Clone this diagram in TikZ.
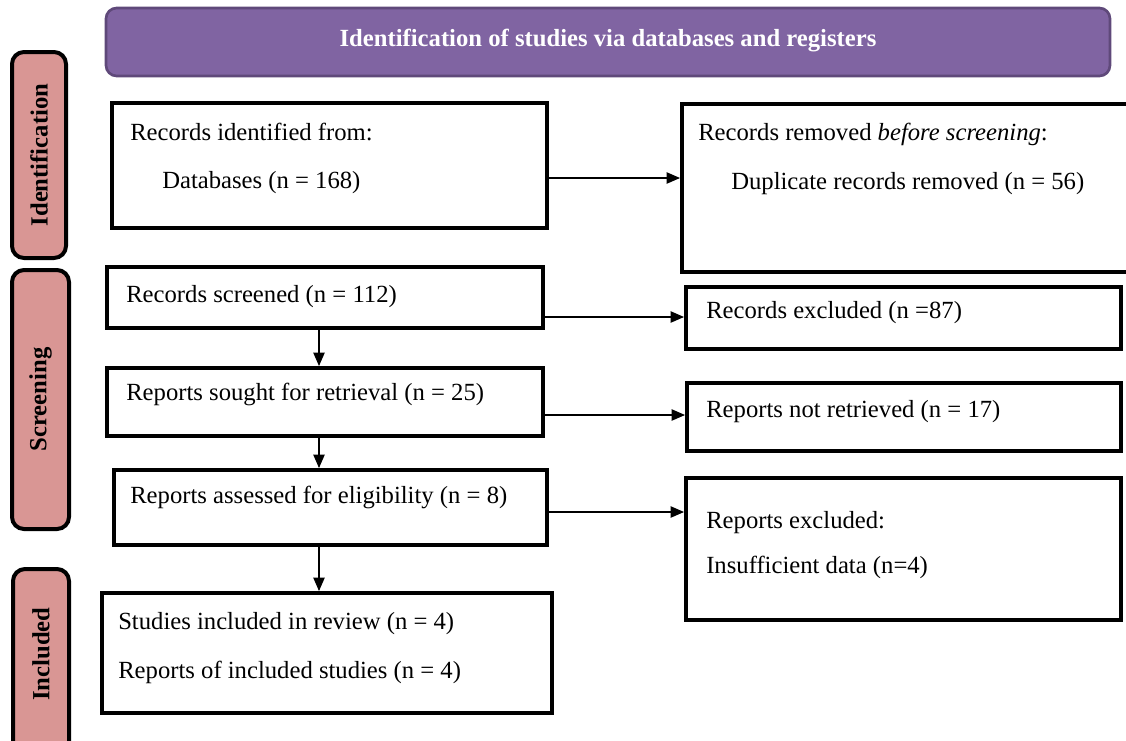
\documentclass[tikz,border=0pt]{standalone}
\usepackage{fontspec}
\setmainfont{Liberation Serif}
\usetikzlibrary{arrows.meta}
\usetikzlibrary{fit}
\definecolor{headfill}{HTML}{8064A2}
\definecolor{headline}{HTML}{5F497A}
\definecolor{stagefill}{HTML}{D99694}
\tikzset{box/.style = {draw, line width=3pt, inner sep=0pt},
         header/.style = {draw=headline, fill=headfill, line width=2pt,
                          rounded corners=8pt, inner sep=0pt},
         headtext/.style = {text=white, font=\fontsize{18.5}{21}\selectfont\bfseries},
         stage/.style = {draw, fill=stagefill, line width=3pt,
                         rounded corners=9pt, inner sep=0pt},
         stagetext/.style = {rotate=90, font=\fontsize{18.5}{21}\selectfont\bfseries},
         txt/.style = {anchor=base west, inner sep=0pt,
                       font=\fontsize{18.5}{21}\selectfont},
         arr/.style = {-{Triangle[length=10pt, width=8.5pt]}, line width=0.8pt}}

\begin{document}
\begin{tikzpicture}[x=0.75pt, y=-0.75pt]
    \useasboundingbox (0, 0) rectangle (1126, 740);

    % header and stage labels
    \node [header, fit={(106, 8) (1110, 76)}] (head) {};
    \node [headtext] (thead) at (608, 41)
        {Identification of studies via databases and registers};
    \node [stage, fit={(12, 52) (66, 258)}] (sid) {};
    \node [stage, fit={(12, 270) (69, 529)}] (sscr) {};
    \node [stage, fit={(13, 569) (69, 760)}] (sinc) {};
    \node [stagetext] at (sid) {Identification};
    \node [stagetext] at (sscr) {Screening};
    \node [stagetext] (tinc) at (41, 654) {Included};

    % left column
    \node [box, fit={(112, 103) (547, 228)}] (ident) {};
    \node [box, fit={(107, 267) (543, 328)}] (screened) {};
    \node [box, fit={(107, 368) (543, 436)}] (sought) {};
    \node [box, fit={(114, 470) (547, 545)}] (assessed) {};
    \node [box, fit={(102, 593) (552, 713)}] (included) {};

    % right column
    \node [box, fit={(682, 104) (1140, 272)}] (removed) {};
    \node [box, fit={(686, 287) (1121, 349)}] (excluded) {};
    \node [box, fit={(687, 383) (1121, 451)}] (notretr) {};
    \node [box, fit={(686, 478) (1121, 620)}] (repexcl) {};

    \node [txt] (t1) at (130, 140) {Records identified from:};
    \node [txt] (t2) at (162, 188) {Databases (n = 168)};
    \node [txt] (t3) at (698, 140) {Records removed \emph{before screening}:};
    \node [txt] (t4) at (731, 189) {Duplicate records removed (n = 56)};
    \node [txt] (t5) at (126, 302) {Records screened (n = 112)};
    \node [txt] (t6) at (706, 318) {Records excluded (n =87)};
    \node [txt] (t7) at (126, 400) {Reports sought for retrieval (n = 25)};
    \node [txt] (t8) at (706, 417) {Reports not retrieved (n = 17)};
    \node [txt] (t9) at (130, 503) {Reports assessed for eligibility (n = 8)};
    \node [txt] (t10) at (706, 528) {Reports excluded:};
    \node [txt] (t11) at (706, 573) {Insufficient data (n=4)};
    \node [txt] (t12) at (118, 629) {Studies included in review (n = 4)};
    \node [txt] (t13) at (118, 678) {Reports of included studies (n = 4)};

    \draw [arr] (ident.east |- 0,178) -- (removed.west |- 0,178);
    \draw [arr] (screened.east |- 0,317) -- (excluded.west |- 0,317);
    \draw [arr] (sought.east |- 0,415) -- (notretr.west |- 0,415);
    \draw [arr] (assessed.east |- 0,512) -- (repexcl.west |- 0,512);

    \draw [arr] (screened.south -| 319,0) -- (sought.north -| 319,0);
    \draw [arr] (sought.south -| 319,0) -- (assessed.north -| 319,0);
    \draw [arr] (assessed.south -| 319,0) -- (included.north -| 319,0);
\end{tikzpicture}
\end{document}
